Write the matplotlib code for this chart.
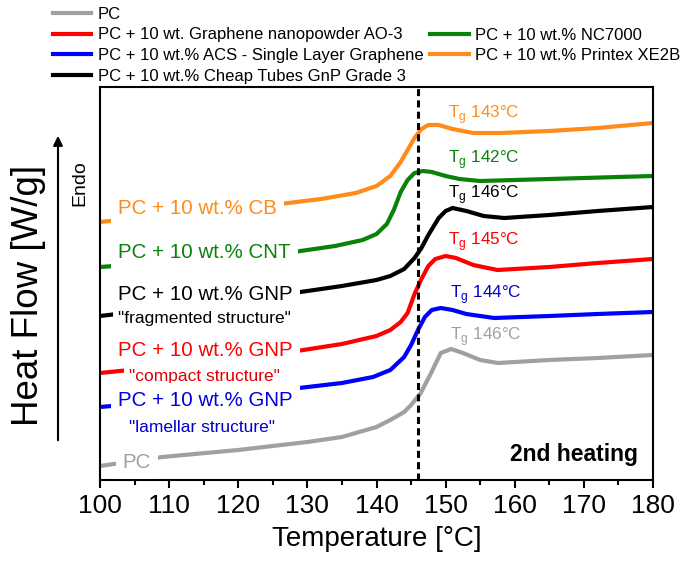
import numpy as np
import matplotlib
matplotlib.use('Agg')
import matplotlib.pyplot as plt
from matplotlib.lines import Line2D

plt.rcParams['font.family'] = 'Liberation Sans'
plt.rcParams['mathtext.fontset'] = 'custom'
plt.rcParams['mathtext.rm'] = 'Liberation Sans'

# DSC curves, 2nd heating (heat flow in arbitrary, stacked units)
t_cb = [100, 110, 120, 126, 132, 137, 140, 142, 143.5, 144.5, 145.5, 146.5, 147.5, 149, 151, 154, 158, 165, 172, 180]
hf_cb = [258, 265, 272, 276, 281, 287, 294, 304, 318, 330, 342, 351, 355, 355, 351, 347, 347, 349, 352, 357]

t_cnt = [100, 110, 120, 128, 134, 138, 140, 141.5, 142.5, 143.5, 144.5, 145.5, 146.7, 148, 150, 152, 155, 160, 170, 180]
hf_cnt = [213, 218, 224, 228, 234, 240, 246, 256, 270, 288, 300, 307, 309, 308, 304, 301, 299, 300, 302, 304]

t_frag = [100, 110, 120, 129, 135, 140, 142, 144, 145.5, 146.5, 147.5, 149, 150, 151, 153, 155.5, 158.5, 165, 172, 180]
hf_frag = [164, 172, 180, 188, 194, 200, 204, 211, 222, 232, 245, 262, 269, 272, 269, 264, 262, 265, 269, 273]

t_comp = [100, 110, 120, 128.5, 135, 140, 142, 143.5, 144.5, 145.5, 146.5, 147.5, 148.5, 150, 151.5, 154, 157.5, 165, 172, 180]
hf_comp = [107, 114, 122, 129, 136, 144, 150, 158, 167, 186, 201, 214, 221, 224, 222, 215, 210, 213, 217, 221]

t_lam = [100, 110, 120, 128.8, 135, 139.5, 142, 144, 145, 146, 147, 148, 149.3, 151, 153, 157, 165, 172, 180]
hf_lam = [73, 79, 86, 92, 97, 103, 110, 123, 135, 150, 163, 170, 172, 170, 166, 162, 164, 166, 168]

t_pc = [100, 109, 120, 130, 135, 140, 142, 144, 145, 146.4, 147.9, 149.3, 150.8, 152.5, 155, 157.6, 165, 172, 180]
hf_pc = [14, 23, 30, 38, 43, 53, 60, 68, 75, 87, 107, 127, 131, 127, 120, 117, 120, 122, 125]

tg_values = [143, 142, 146, 145, 144, 146]
legend_labels = ['PC',
                 'PC + 10 wt. Graphene nanopowder AO-3',
                 'PC + 10 wt.% ACS - Single Layer Graphene',
                 'PC + 10 wt.% Cheap Tubes GnP Grade 3',
                 'PC + 10 wt.% NC7000',
                 'PC + 10 wt.% Printex XE2B']

c_gray = '#a0a0a0'
c_red = '#ff0000'
c_blue = '#0000ff'
c_black = '#000000'
c_green = '#0a820a'
c_orange = '#ff8c1a'

fig = plt.figure(figsize=(6.92, 5.68), dpi=100)
ax = fig.add_axes([100/692, 1-480/568, 553/692, 393/568])

lw = 3
ax.plot(t_pc, hf_pc, color=c_gray, lw=lw)
ax.plot(t_lam, hf_lam, color=c_blue, lw=lw)
ax.plot(t_comp, hf_comp, color=c_red, lw=lw)
ax.plot(t_frag, hf_frag, color=c_black, lw=lw)
ax.plot(t_cnt, hf_cnt, color=c_green, lw=lw)
ax.plot(t_cb, hf_cb, color=c_orange, lw=lw)

ax.axvline(146, color='black', lw=2.2, linestyle=(0, (2.3, 1.4)))

ax.set_xlim(100, 180)
ax.set_ylim(0, 393)
ax.set_xticks(np.arange(100, 181, 10))
ax.set_xticks(np.arange(105, 180, 10), minor=True)
ax.set_yticks([])
ax.tick_params(axis='x', which='major', direction='out', length=6, width=1.5, labelsize=19, pad=4)
ax.tick_params(axis='x', which='minor', direction='out', length=3.5, width=1.5)
for s in ax.spines.values():
    s.set_linewidth(1.5)
ax.set_xlabel('Temperature [°C]', fontsize=20, labelpad=6)

# curve labels (white box hides the curve underneath)
box = dict(facecolor='white', edgecolor='none', boxstyle='square,pad=0.35')
box_s = dict(facecolor='white', edgecolor='none', boxstyle='square,pad=0.3')
big = 14.8
small = 12.5
ax.text(102.6, 271, 'PC + 10 wt.% CB', color=c_orange, fontsize=big, va='center', bbox=box, zorder=5)
ax.text(102.6, 227, 'PC + 10 wt.% CNT', color=c_green, fontsize=big, va='center', bbox=box, zorder=5)
ax.text(102.6, 186, 'PC + 10 wt.% GNP', color=c_black, fontsize=big, va='center', bbox=box, zorder=5)
ax.text(102.6, 161, '"fragmented structure"', color=c_black, fontsize=small, va='center', bbox=box_s, zorder=5)
ax.text(102.6, 129, 'PC + 10 wt.% GNP', color=c_red, fontsize=big, va='center', bbox=box, zorder=5)
ax.text(104.2, 103, '"compact structure"', color='#e00000', fontsize=small, va='center', bbox=box_s, zorder=5)
ax.text(102.6, 80, 'PC + 10 wt.% GNP', color='#0000dd', fontsize=big, va='center', bbox=box, zorder=5)
ax.text(104.2, 53, '"lamellar structure"', color='#0000cc', fontsize=small, va='center', bbox=box_s, zorder=5)
ax.text(103.3, 18, 'PC', color=c_gray, fontsize=big, va='center', bbox=box, zorder=5)

tg_pos = [(150.3, 365, c_orange), (150.3, 320, c_green), (150.3, 285, c_black),
          (150.4, 238, c_red), (150.6, 185, '#0000cc'), (150.6, 143, c_gray)]
for tg, (x, y, c) in zip(tg_values, tg_pos):
    ax.text(x, y, r'T$_\mathregular{g}$ ' + '%d°C' % tg, color=c, fontsize=12.3, va='center')

ax.text(177.8, 25, '2nd heating', fontsize=16.5, fontweight='bold', ha='right', va='center')

# y axis label with Endo arrow
fig.text(29/692, 1-295/568, 'Heat Flow [W/g]', rotation=90, fontsize=26.5, ha='center', va='center')
ax.annotate('', xy=(58/692, 1-133/568), xytext=(58/692, 1-443/568),
            xycoords='figure fraction', textcoords='figure fraction',
            arrowprops=dict(arrowstyle='-|>', color='black', lw=1.5, mutation_scale=14))
fig.text(80/692, 1-183/568, 'Endo', rotation=90, fontsize=14, ha='center', va='center')

# legend: two columns, second column starts on row two
handles = [Line2D([], [], color=c_gray, lw=lw),
           Line2D([], [], color=c_red, lw=lw),
           Line2D([], [], color=c_blue, lw=lw),
           Line2D([], [], color=c_black, lw=lw),
           Line2D([], [], color='none', lw=0),
           Line2D([], [], color=c_green, lw=lw),
           Line2D([], [], color=c_orange, lw=lw)]
labels = [legend_labels[0], legend_labels[1], legend_labels[2], legend_labels[3], '',
          legend_labels[4], legend_labels[5]]
fig.legend(handles, labels, ncol=2, loc='upper left', bbox_to_anchor=(53/692, 1-7/568),
           frameon=False, fontsize=12, handlelength=2.3, handletextpad=0.4,
           labelspacing=0.33, columnspacing=0.4, borderpad=0, borderaxespad=0)

fig.savefig('out.png', dpi=100)
